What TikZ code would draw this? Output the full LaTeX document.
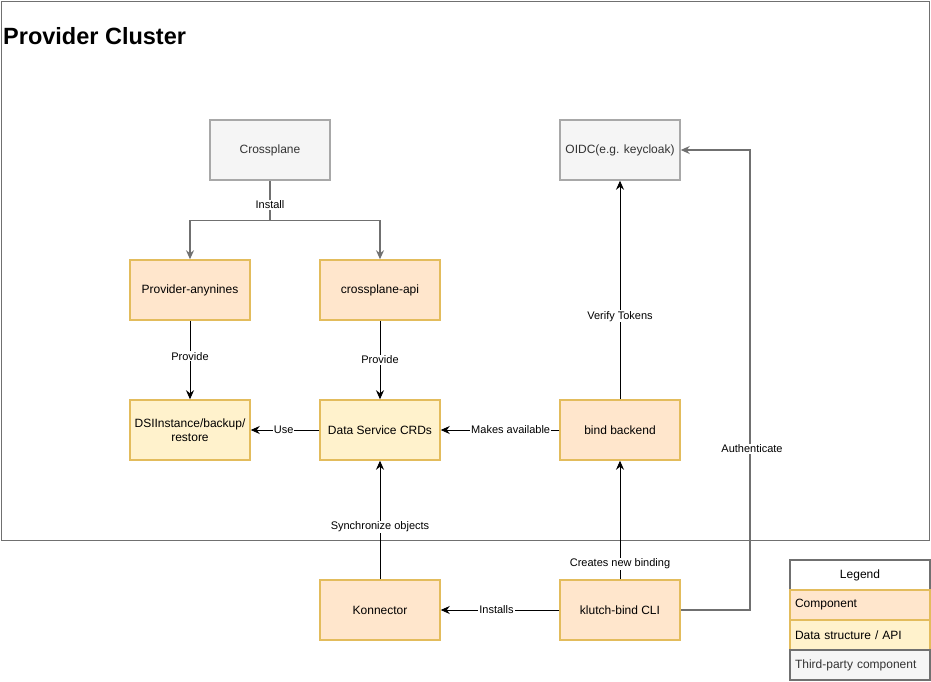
\documentclass[tikz,border=0pt]{standalone}
\usepackage{fontspec}
\setmainfont{Liberation Sans}
\usepackage{tikz}
\usepackage{xcolor}
\usetikzlibrary{arrows.meta}
\definecolor{compfill}{HTML}{FFE6CC}
\definecolor{datafill}{HTML}{FFF2CC}
\definecolor{yelline}{HTML}{E3BC5C}
\definecolor{thirdfill}{HTML}{F5F5F5}
\definecolor{thirdline}{HTML}{A8A8A8}
\definecolor{edgegray}{HTML}{707070}
\tikzset{box/.style={draw,line width=1.5pt,minimum width=120pt,minimum height=60pt,inner sep=2pt,align=center,font=\fontsize{12}{14}\selectfont}}
\tikzset{comp/.style={box,fill=compfill,draw=yelline}}
\tikzset{datas/.style={box,fill=datafill,draw=yelline}}
\tikzset{third/.style={box,fill=thirdfill,draw=thirdline,text=black!80}}
\tikzset{edge/.style={-{Stealth[length=9pt,width=8pt,inset=3pt]},line width=0.8pt}}
\tikzset{gedge/.style={-{Stealth[length=9pt,width=8pt,inset=3pt]},draw=edgegray,line width=1.3pt}}
\tikzset{elabel/.style={fill=white,inner sep=1pt,font=\fontsize{11}{13}\selectfont}}
\tikzset{legrow/.style={draw,line width=1.2pt,minimum width=140pt,minimum height=30pt,text width=130pt,align=left,inner sep=0pt,font=\fontsize{12}{14}\selectfont}}

\begin{document}
\begin{tikzpicture}[x=1pt,y=-1pt]
            \useasboundingbox (0,0) rectangle (931,681);
            % draw the cluster frame
            \draw[edgegray,line width=1pt] (1,1) rectangle (929,540);
            \node[anchor=base west,inner sep=0pt,font=\fontsize{23.5}{28}\selectfont\bfseries] (title) at (3,44) {Provider Cluster};
            % draw the boxes
            \node[third] (crossplane) at (270,150) {Crossplane};
            \node[third] (oidc) at (620,150) {OIDC(e.g. keycloak)};
            \node[comp] (provider) at (190,290) {Provider-anynines};
            \node[comp] (xapi) at (380,290) {crossplane-api};
            \node[datas] (dsi) at (190,430) {DSIInstance/backup/\\restore};
            \node[datas] (crds) at (380,430) {Data Service CRDs};
            \node[comp] (backend) at (620,430) {bind backend};
            \node[comp] (konnector) at (380,610) {Konnector};
            \node[comp] (cli) at (620,610) {klutch-bind CLI};
            % draw the connectors
            \draw[gedge,-] (crossplane.south) -- node[elabel,pos=0.6] {Install} ++(0,40) coordinate (split);
            \draw[gedge] (split) -| (provider.north);
            \draw[gedge] (split) -| (xapi.north);
            \draw[edge] (provider) -- node[elabel,pos=0.45] {Provide} (dsi);
            \draw[edge] (xapi) -- node[elabel] {Provide} (crds);
            \draw[edge] (crds) -- node[elabel,pos=0.52] {Use} (dsi);
            \draw[edge] (backend) -- node[elabel,pos=0.41] {Makes available} (crds);
            \draw[edge] (backend) -- node[elabel,pos=0.38] {Verify Tokens} (oidc);
            \draw[edge] (konnector) -- node[elabel,pos=0.44] {Synchronize objects} (crds);
            \draw[edge] (cli) -- node[elabel,pos=0.13] {Creates new binding} (backend);
            \draw[edge] (cli) -- node[elabel,pos=0.53] {Installs} (konnector);
            \draw[gedge] (cli.east) -- (750,610) -- node[elabel,pos=0.35,xshift=2pt] {Authenticate} (750,150) -- (oidc.east);
            % draw the legend
            \node[legrow,draw=edgegray,fill=white,align=center] (legend) at (860,575) {Legend};
            \node[legrow,fill=compfill,draw=yelline] (legcomp) at (860,605) {Component};
            \node[legrow,fill=datafill,draw=yelline] (legdata) at (860,635) {Data structure / API};
            \node[legrow,fill=thirdfill,draw=edgegray,text=black!80] (legthird) at (860,665) {Third-party component};
        \end{tikzpicture}
\end{document}
